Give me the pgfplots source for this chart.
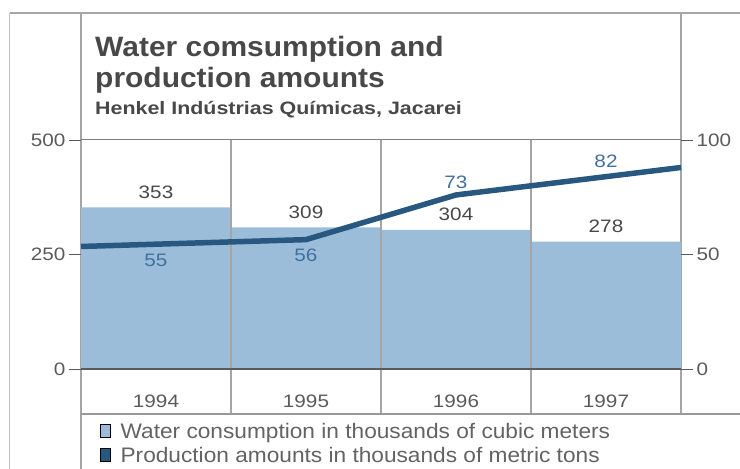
\documentclass[border=0pt]{standalone}
\usepackage{graphicx}
\usepackage{fontspec}
\setmainfont{Liberation Sans}
\usepackage{pgfplots}
\pgfplotsset{compat=1.18}
\definecolor{barblue}{RGB}{155,189,218}
\definecolor{lineblue}{RGB}{40,88,128}
\definecolor{labelblue}{RGB}{66,112,158}
\definecolor{textgray}{RGB}{72,72,72}
\definecolor{tickgray}{RGB}{90,90,90}
\definecolor{framegray}{RGB}{165,165,165}
\newcommand{\sx}[1]{\scalebox{1.15}[1]{#1}}
\begin{document}
\begin{tikzpicture}
\useasboundingbox (-81bp,-100bp) rectangle (659bp,369bp);
% frame
\draw[framegray, line width=1.3bp] (-71bp,356bp) -- (659bp,356bp);
\draw[framegray!70, line width=1bp] (-71bp,356bp) -- (-71bp,-100bp);
\draw[framegray, line width=1.1bp] (0bp,356bp) -- (0bp,-100bp);
\draw[framegray, line width=1.1bp] (600bp,356bp) -- (600bp,-45bp);
% titles
\node[anchor=base west, inner sep=0pt, text=textgray, font=\fontsize{28bp}{30bp}\selectfont\bfseries] at (14bp,312bp) {\scalebox{1.07}[1]{Water comsumption and}};
\node[anchor=base west, inner sep=0pt, text=textgray, font=\fontsize{28bp}{30bp}\selectfont\bfseries] at (14bp,281bp) {\scalebox{1.07}[1]{production amounts}};
\node[anchor=base west, inner sep=0pt, text=textgray, font=\fontsize{18bp}{20bp}\selectfont\bfseries] at (14bp,254bp) {\scalebox{1.19}[1]{Henkel Indústrias Químicas, Jacarei}};
\begin{axis}[
  at={(0,0)}, anchor=south west,
  scale only axis, width=600bp, height=229bp,
  xmin=-0.5, xmax=3.5, ymin=0, ymax=500,
  axis line style={draw=none},
  xtick={0,1,2,3},
  xticklabels={\sx{1994},\sx{1995},\sx{1996},\sx{1997}},
  xtick pos=left, ytick pos=left,
  ytick={0,250,500},
  yticklabels={\sx{0},\sx{250},\sx{500}},
  tick align=outside,
  major tick length=12bp,
  major x tick style={draw=none},
  y tick style={tickgray, line width=0.8bp},
  xticklabel style={anchor=center, yshift=-20bp, font=\fontsize{18bp}{20bp}\selectfont, text=tickgray},
  yticklabel style={anchor=east, font=\fontsize{18bp}{20bp}\selectfont, text=tickgray},
  /pgf/number format/assume math mode=true,
]
\addplot[ybar, bar width=1, fill=barblue, draw=none,
  nodes near coords={\sx{\pgfmathprintnumber{\pgfplotspointmeta}}},
  every node near coord/.append style={anchor=center, yshift=15bp, text=textgray, font=\fontsize{18bp}{20bp}\selectfont}]
  coordinates {(0,353) (1,309) (2,304) (3,278)};
\end{axis}
% grid lines over bars
\foreach \x in {150,300,450} {\draw[framegray, line width=1.1bp] (\x bp,229bp) -- (\x bp,-45bp);}
\draw[gray, line width=1bp] (0bp,229bp) -- (600bp,229bp);
\draw[tickgray, line width=1.3bp] (0bp,0bp) -- (600bp,0bp);
\draw[gray!80, line width=1.2bp] (0bp,-45bp) -- (659bp,-45bp);
\begin{axis}[
  at={(0,0)}, anchor=south west,
  scale only axis, width=600bp, height=229bp,
  xmin=-0.5, xmax=3.5, ymin=0, ymax=100,
  axis line style={draw=none},
  xtick=\empty,
  ytick pos=right,
  ytick={0,50,100},
  yticklabels={\sx{0},\sx{50},\sx{100}},
  tick align=outside,
  major tick length=12bp,
  y tick style={tickgray, line width=0.8bp},
  yticklabel style={anchor=west, font=\fontsize{18bp}{20bp}\selectfont, text=tickgray},
  clip=false,
  legend cell align=left,
  legend style={at={(19bp,-52bp)}, anchor=north west, draw=none, fill=none,
    font=\fontsize{21bp}{23bp}\selectfont, text=textgray!85,
    row sep=3bp, inner sep=0pt},
  legend image code/.code={\fill[#1] (0bp,-6bp) rectangle (10bp,7bp);},
]
\addlegendimage{fill=barblue}
\addlegendentry{\hspace{8bp}\scalebox{1.08}[1]{Water consumption in thousands of cubic meters}}
\addlegendimage{fill=lineblue}
\addlegendentry{\hspace{8bp}\scalebox{1.08}[1]{Production amounts in thousands of metric tons}}
\addplot[lineblue, line width=5.5bp, line join=round, line cap=butt, forget plot]
  coordinates {(-0.5,53.5) (0,54.5) (1,56.5) (2,76) (3,84) (3.5,88)};
\addplot[draw=none, forget plot, point meta=explicit symbolic,
  nodes near coords={\sx{\pgfplotspointmeta}},
  every node near coord/.append style={anchor=center, text=labelblue, font=\fontsize{18bp}{20bp}\selectfont}]
  coordinates {(0,47.6)[55] (1,49.8)[56] (2,81.5)[73] (3,90.7)[82]};
\end{axis}
\end{tikzpicture}
\end{document}
